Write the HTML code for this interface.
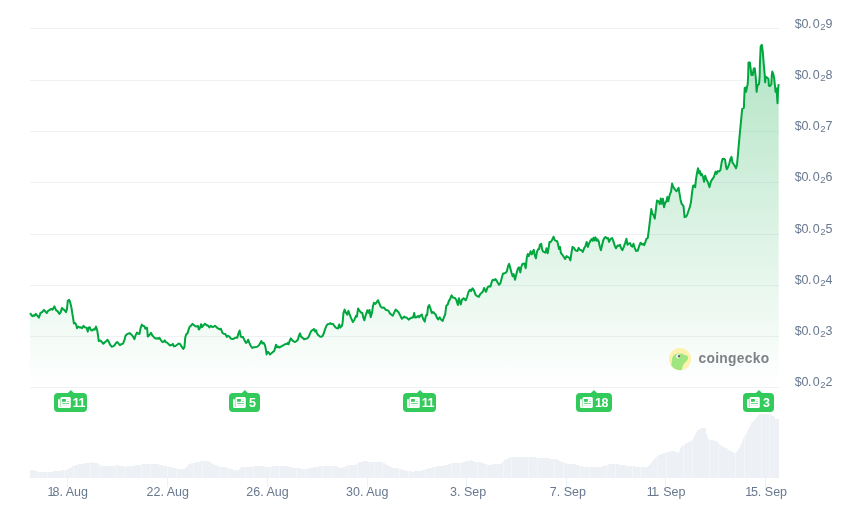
<!DOCTYPE html>
<html><head><meta charset="utf-8"><title>Price chart</title>
<style>
html,body{margin:0;padding:0;background:#fff;}
body{width:846px;height:516px;overflow:hidden;font-family:"Liberation Sans",sans-serif;}
svg{display:block;}
svg text{font-family:"Liberation Sans",sans-serif;}
</style></head><body>
<svg width="846" height="516" viewBox="0 0 846 516">
<defs>
<linearGradient id="ag" gradientUnits="userSpaceOnUse" x1="0" y1="44.8" x2="0" y2="387.5">
<stop offset="0" stop-color="#00a63e" stop-opacity="0.3"/>
<stop offset="1" stop-color="#00a63e" stop-opacity="0"/>
</linearGradient>
</defs>
<rect width="846" height="516" fill="#fff"/>
<g shape-rendering="crispEdges"><rect x="30" y="28" width="749" height="1" fill="#eff2f5"/><rect x="30" y="80" width="749" height="1" fill="#eff2f5"/><rect x="30" y="131" width="749" height="1" fill="#eff2f5"/><rect x="30" y="182" width="749" height="1" fill="#eff2f5"/><rect x="30" y="234" width="749" height="1" fill="#eff2f5"/><rect x="30" y="285" width="749" height="1" fill="#eff2f5"/><rect x="30" y="336" width="749" height="1" fill="#eff2f5"/><rect x="30" y="387" width="749" height="1" fill="#eff2f5"/><rect x="67" y="478" width="1" height="9" fill="#eff2f5"/><rect x="167" y="478" width="1" height="9" fill="#eff2f5"/><rect x="267" y="478" width="1" height="9" fill="#eff2f5"/><rect x="367" y="478" width="1" height="9" fill="#eff2f5"/><rect x="466" y="478" width="1" height="9" fill="#eff2f5"/><rect x="566" y="478" width="1" height="9" fill="#eff2f5"/><rect x="665" y="478" width="1" height="9" fill="#eff2f5"/><rect x="765" y="478" width="1" height="9" fill="#eff2f5"/></g>
<rect x="30" y="477" width="749" height="1" fill="#eff2f5"/>
<clipPath id="vc"><path d="M30 477.5 L30.0 469.6 L33.2 469.6 L38.9 471.9 L48.4 472.2 L57.8 470.9 L67.3 469.6 L73.0 466.2 L76.7 464.7 L84.3 463.4 L91.9 462.4 L97.5 463.4 L101.3 465.8 L110.8 466.2 L116.5 465.2 L125.9 466.6 L133.5 465.8 L142.9 464.3 L150.5 463.4 L158.1 464.3 L167.5 466.6 L180.0 469.0 L184.2 469.3 L188.9 464.0 L194.6 462.5 L201.2 461.2 L208.8 461.2 L212.6 463.7 L219.2 466.5 L226.7 467.4 L232.4 469.3 L238.1 470.7 L241.9 466.9 L249.4 466.9 L260.8 465.9 L268.4 466.9 L277.8 465.9 L285.4 465.9 L292.9 467.8 L298.6 468.4 L306.2 468.8 L315.6 466.9 L321.3 465.9 L327.6 465.9 L336.1 465.9 L340.8 468.4 L346.5 465.6 L355.9 464.6 L360.7 461.8 L365.4 460.8 L369.2 461.8 L382.4 462.1 L386.2 464.6 L391.9 467.4 L399.4 468.8 L405.1 470.3 L412.7 471.6 L420.2 471.2 L425.9 469.3 L433.5 466.9 L442.9 465.9 L452.4 463.1 L459.9 463.1 L465.6 461.2 L471.3 460.3 L475.7 462.1 L481.4 462.5 L488.9 465.0 L494.6 464.0 L500.3 463.7 L505.9 459.3 L511.6 456.5 L526.7 456.5 L534.3 457.4 L549.4 458.4 L557.0 459.3 L562.7 462.1 L568.4 464.0 L574.0 464.0 L579.7 465.9 L587.3 467.4 L602.4 466.5 L610.0 463.7 L617.5 463.7 L620.0 464.9 L629.5 465.8 L638.9 467.1 L648.4 466.6 L652.1 461.5 L657.8 455.8 L663.5 453.3 L673.0 450.7 L678.6 452.6 L681.5 446.3 L686.2 443.5 L691.9 440.7 L697.5 430.3 L701.3 428.4 L705.5 428.4 L707.0 436.9 L709.8 440.1 L716.5 440.7 L720.2 445.0 L725.9 448.2 L731.6 451.1 L735.4 453.0 L739.1 448.8 L742.9 439.7 L745.8 434.0 L750.5 424.6 L756.2 418.0 L760.0 413.6 L769.4 413.6 L771.3 415.1 L774.1 416.1 L775.1 418.9 L778.7 419.5 L778.7 477.5 Z"/></clipPath>
<path d="M30 477.5 L30.0 469.6 L33.2 469.6 L38.9 471.9 L48.4 472.2 L57.8 470.9 L67.3 469.6 L73.0 466.2 L76.7 464.7 L84.3 463.4 L91.9 462.4 L97.5 463.4 L101.3 465.8 L110.8 466.2 L116.5 465.2 L125.9 466.6 L133.5 465.8 L142.9 464.3 L150.5 463.4 L158.1 464.3 L167.5 466.6 L180.0 469.0 L184.2 469.3 L188.9 464.0 L194.6 462.5 L201.2 461.2 L208.8 461.2 L212.6 463.7 L219.2 466.5 L226.7 467.4 L232.4 469.3 L238.1 470.7 L241.9 466.9 L249.4 466.9 L260.8 465.9 L268.4 466.9 L277.8 465.9 L285.4 465.9 L292.9 467.8 L298.6 468.4 L306.2 468.8 L315.6 466.9 L321.3 465.9 L327.6 465.9 L336.1 465.9 L340.8 468.4 L346.5 465.6 L355.9 464.6 L360.7 461.8 L365.4 460.8 L369.2 461.8 L382.4 462.1 L386.2 464.6 L391.9 467.4 L399.4 468.8 L405.1 470.3 L412.7 471.6 L420.2 471.2 L425.9 469.3 L433.5 466.9 L442.9 465.9 L452.4 463.1 L459.9 463.1 L465.6 461.2 L471.3 460.3 L475.7 462.1 L481.4 462.5 L488.9 465.0 L494.6 464.0 L500.3 463.7 L505.9 459.3 L511.6 456.5 L526.7 456.5 L534.3 457.4 L549.4 458.4 L557.0 459.3 L562.7 462.1 L568.4 464.0 L574.0 464.0 L579.7 465.9 L587.3 467.4 L602.4 466.5 L610.0 463.7 L617.5 463.7 L620.0 464.9 L629.5 465.8 L638.9 467.1 L648.4 466.6 L652.1 461.5 L657.8 455.8 L663.5 453.3 L673.0 450.7 L678.6 452.6 L681.5 446.3 L686.2 443.5 L691.9 440.7 L697.5 430.3 L701.3 428.4 L705.5 428.4 L707.0 436.9 L709.8 440.1 L716.5 440.7 L720.2 445.0 L725.9 448.2 L731.6 451.1 L735.4 453.0 L739.1 448.8 L742.9 439.7 L745.8 434.0 L750.5 424.6 L756.2 418.0 L760.0 413.6 L769.4 413.6 L771.3 415.1 L774.1 416.1 L775.1 418.9 L778.7 419.5 L778.7 477.5 Z" fill="#edf1f5" shape-rendering="crispEdges"/>
<g clip-path="url(#vc)" shape-rendering="crispEdges" fill="#f3f5f8"><rect x="38" y="405" width="1" height="73"/><rect x="47" y="405" width="1" height="73"/><rect x="64" y="405" width="1" height="73"/><rect x="73" y="405" width="1" height="73"/><rect x="90" y="405" width="1" height="73"/><rect x="99" y="405" width="1" height="73"/><rect x="116" y="405" width="1" height="73"/><rect x="124" y="405" width="1" height="73"/><rect x="141" y="405" width="1" height="73"/><rect x="150" y="405" width="1" height="73"/><rect x="167" y="405" width="1" height="73"/><rect x="176" y="405" width="1" height="73"/><rect x="193" y="405" width="1" height="73"/><rect x="202" y="405" width="1" height="73"/><rect x="219" y="405" width="1" height="73"/><rect x="228" y="405" width="1" height="73"/><rect x="245" y="405" width="1" height="73"/><rect x="253" y="405" width="1" height="73"/><rect x="270" y="405" width="1" height="73"/><rect x="279" y="405" width="1" height="73"/><rect x="296" y="405" width="1" height="73"/><rect x="305" y="405" width="1" height="73"/><rect x="322" y="405" width="1" height="73"/><rect x="331" y="405" width="1" height="73"/><rect x="348" y="405" width="1" height="73"/><rect x="357" y="405" width="1" height="73"/><rect x="374" y="405" width="1" height="73"/><rect x="382" y="405" width="1" height="73"/><rect x="399" y="405" width="1" height="73"/><rect x="408" y="405" width="1" height="73"/><rect x="425" y="405" width="1" height="73"/><rect x="434" y="405" width="1" height="73"/><rect x="451" y="405" width="1" height="73"/><rect x="460" y="405" width="1" height="73"/><rect x="477" y="405" width="1" height="73"/><rect x="486" y="405" width="1" height="73"/><rect x="503" y="405" width="1" height="73"/><rect x="511" y="405" width="1" height="73"/><rect x="528" y="405" width="1" height="73"/><rect x="537" y="405" width="1" height="73"/><rect x="554" y="405" width="1" height="73"/><rect x="563" y="405" width="1" height="73"/><rect x="580" y="405" width="1" height="73"/><rect x="589" y="405" width="1" height="73"/><rect x="606" y="405" width="1" height="73"/><rect x="615" y="405" width="1" height="73"/><rect x="632" y="405" width="1" height="73"/><rect x="640" y="405" width="1" height="73"/><rect x="657" y="405" width="1" height="73"/><rect x="666" y="405" width="1" height="73"/><rect x="683" y="405" width="1" height="73"/><rect x="692" y="405" width="1" height="73"/><rect x="709" y="405" width="1" height="73"/><rect x="718" y="405" width="1" height="73"/><rect x="735" y="405" width="1" height="73"/><rect x="744" y="405" width="1" height="73"/><rect x="761" y="405" width="1" height="73"/><rect x="769" y="405" width="1" height="73"/></g>
<path d="M30.0 313.1 L32.3 316.2 L33.6 315.2 L34.6 315.8 L35.8 313.9 L37.3 315.6 L38.9 317.7 L40.5 312.9 L42.1 312.1 L44.0 309.9 L45.5 311.7 L46.8 313.1 L48.1 310.8 L49.7 309.9 L51.2 308.9 L52.5 309.8 L54.4 306.4 L56.0 310.2 L57.5 311.2 L59.4 313.9 L60.7 312.1 L61.9 308.0 L63.4 309.5 L64.4 309.9 L66.0 312.1 L67.0 308.9 L67.8 300.7 L69.1 299.8 L70.1 302.0 L71.4 307.6 L72.6 315.2 L73.9 323.4 L75.2 323.0 L76.2 324.7 L77.0 328.2 L78.3 326.6 L79.6 327.4 L80.8 327.2 L82.1 328.2 L83.6 325.9 L85.0 327.4 L86.5 327.8 L87.8 331.6 L88.6 327.6 L89.7 327.2 L90.9 330.1 L92.2 330.6 L93.4 329.3 L94.7 329.7 L96.0 326.6 L97.2 330.3 L98.1 336.0 L98.8 341.1 L100.4 340.4 L101.6 341.7 L103.3 343.8 L104.8 342.3 L106.0 341.4 L107.5 339.8 L108.8 341.9 L110.2 344.8 L111.7 346.7 L113.6 346.1 L114.9 344.8 L116.1 342.7 L117.4 342.1 L118.6 343.6 L119.9 345.1 L121.4 344.2 L123.0 343.6 L124.3 340.4 L125.6 335.4 L126.8 334.4 L128.3 333.7 L129.6 333.1 L130.9 334.1 L132.6 335.9 L134.4 339.1 L135.8 334.7 L137.1 332.5 L138.3 333.8 L139.5 334.0 L140.5 328.4 L141.8 324.6 L143.0 325.8 L144.3 326.2 L145.3 328.7 L146.2 327.7 L147.1 328.0 L147.8 336.6 L149.3 335.3 L151.0 332.8 L152.2 335.3 L153.7 336.9 L155.4 338.4 L156.9 338.2 L158.4 338.8 L159.4 337.8 L161.0 340.3 L162.6 342.2 L163.8 341.6 L164.7 340.3 L165.9 342.2 L167.2 342.6 L168.8 344.4 L170.1 345.4 L171.6 345.1 L172.9 343.9 L173.9 346.4 L175.4 346.0 L177.1 344.7 L178.7 343.5 L180.2 344.1 L181.5 346.4 L183.3 348.9 L184.4 347.3 L185.2 337.8 L186.2 334.3 L187.5 333.4 L188.6 329.6 L189.7 326.7 L190.9 325.8 L192.4 323.9 L194.1 325.2 L195.3 326.2 L196.6 326.5 L197.8 325.8 L198.8 329.6 L200.1 327.7 L201.0 324.2 L202.0 327.1 L203.5 325.2 L205.0 323.7 L206.7 325.2 L208.2 325.8 L209.4 327.5 L210.7 325.8 L212.3 326.9 L213.6 326.7 L214.9 325.8 L216.4 327.1 L218.0 328.4 L219.3 329.2 L220.8 328.7 L222.4 332.8 L223.7 333.8 L225.3 334.0 L226.8 336.9 L228.1 335.7 L229.6 336.8 L231.2 338.8 L232.9 339.1 L234.6 338.1 L235.8 337.6 L237.3 337.8 L238.3 333.8 L239.6 330.5 L240.8 336.6 L241.8 337.2 L243.0 336.9 L244.5 340.3 L245.9 342.9 L247.1 341.9 L248.1 339.7 L249.3 342.9 L250.8 346.0 L252.2 347.9 L254.0 347.3 L255.9 347.0 L257.5 346.6 L259.0 345.1 L260.3 343.1 L261.3 341.0 L262.6 343.5 L263.6 342.9 L264.8 344.7 L265.7 348.5 L266.6 354.4 L267.9 351.9 L268.9 352.7 L269.9 354.4 L271.4 353.2 L272.9 351.9 L274.1 351.1 L275.2 347.9 L276.0 344.7 L277.1 347.3 L278.1 346.6 L279.2 347.6 L280.8 346.6 L282.3 346.0 L284.0 344.7 L285.5 344.1 L286.8 344.1 L287.8 342.9 L288.6 344.1 L289.9 340.3 L290.9 338.4 L292.2 340.3 L293.7 341.3 L295.1 342.0 L296.6 341.0 L297.8 339.7 L298.9 335.9 L300.0 333.4 L301.0 336.6 L302.5 337.8 L304.1 339.3 L305.7 338.8 L307.3 338.4 L308.8 336.6 L310.1 333.4 L311.3 330.9 L312.6 330.2 L313.9 329.0 L315.1 331.5 L316.1 330.2 L317.0 333.4 L318.4 335.3 L319.9 336.6 L321.2 336.8 L322.7 335.9 L323.9 333.0 L324.9 329.6 L326.4 325.8 L327.7 324.2 L329.1 323.9 L330.4 323.1 L331.3 324.1 L332.9 323.9 L334.4 326.0 L336.1 327.9 L338.0 328.5 L339.2 324.4 L340.2 327.6 L341.8 326.0 L342.6 322.9 L343.4 313.4 L344.6 309.6 L345.9 312.8 L347.2 314.7 L348.4 310.9 L349.7 314.7 L351.0 317.8 L352.9 322.0 L354.4 319.7 L356.0 315.9 L356.9 316.6 L358.1 308.4 L359.6 310.9 L361.0 312.5 L362.3 313.0 L363.4 317.8 L364.4 320.3 L365.7 315.3 L367.3 310.2 L368.5 312.8 L369.5 310.0 L370.7 317.2 L372.0 312.8 L372.9 306.5 L373.9 302.7 L375.4 303.9 L376.7 302.1 L377.9 300.2 L379.3 303.3 L380.6 306.5 L382.1 307.7 L384.0 307.5 L385.5 309.6 L387.1 310.2 L388.6 310.9 L390.0 313.4 L391.5 314.7 L392.8 315.7 L394.1 312.8 L395.6 309.6 L397.2 310.9 L398.7 312.5 L400.4 315.9 L401.9 318.8 L403.1 317.6 L404.1 316.6 L405.4 317.6 L406.7 317.6 L408.6 319.7 L410.2 318.4 L411.7 317.8 L413.2 317.2 L414.2 313.0 L415.1 317.6 L416.5 317.2 L418.0 315.9 L419.3 317.2 L420.0 316.0 L421.7 314.5 L423.1 318.8 L424.7 321.6 L426.0 315.2 L427.1 315.2 L428.1 306.7 L429.2 305.0 L430.6 308.9 L431.8 313.1 L433.1 312.1 L434.2 313.1 L435.6 314.5 L437.0 317.8 L438.2 319.5 L439.6 317.4 L441.0 319.5 L442.7 320.9 L444.1 316.7 L445.2 314.5 L446.2 306.0 L447.7 304.6 L448.8 301.1 L450.2 298.9 L451.6 295.4 L452.9 297.5 L454.8 297.9 L456.2 299.6 L457.9 305.0 L459.0 298.2 L460.7 304.6 L462.1 299.6 L463.6 298.2 L465.7 300.4 L467.1 296.8 L468.6 291.8 L469.9 289.7 L471.1 291.1 L472.5 288.3 L473.9 290.4 L475.6 294.7 L477.0 296.1 L478.9 296.8 L480.3 294.0 L482.0 292.6 L483.1 291.1 L484.1 288.0 L486.0 291.8 L487.7 287.2 L489.2 286.2 L490.5 286.6 L491.9 281.2 L492.8 279.8 L494.0 280.2 L495.5 279.1 L497.3 281.9 L499.0 284.8 L500.4 283.3 L501.6 278.4 L503.0 273.4 L504.4 273.4 L505.8 272.7 L506.9 271.3 L508.2 265.6 L509.1 263.9 L510.4 268.4 L511.5 272.7 L512.6 276.2 L513.6 274.1 L515.0 279.8 L516.5 273.4 L517.9 268.4 L518.9 267.3 L520.4 272.4 L521.1 267.5 L522.4 263.9 L524.3 263.5 L525.7 268.2 L526.8 257.6 L527.8 254.0 L528.8 256.1 L529.9 253.3 L530.6 251.2 L531.8 254.4 L532.8 251.9 L533.8 249.8 L534.6 254.7 L535.9 258.3 L537.0 251.6 L538.2 249.3 L539.1 249.0 L539.9 244.8 L541.3 243.8 L542.0 248.8 L543.1 251.6 L544.5 252.2 L545.5 252.6 L546.5 248.3 L547.7 253.3 L548.8 246.9 L549.5 241.9 L550.5 242.2 L551.9 240.2 L553.6 236.7 L554.8 240.2 L556.2 241.0 L557.2 241.2 L558.3 245.5 L559.0 249.0 L560.0 246.9 L560.9 253.0 L562.1 254.4 L563.7 256.8 L565.1 259.0 L566.5 256.1 L568.2 257.3 L569.2 257.6 L570.4 260.4 L571.4 253.3 L572.5 246.9 L573.9 247.9 L575.6 250.5 L577.5 250.9 L578.6 247.9 L579.9 249.8 L581.3 250.2 L582.8 251.9 L584.1 248.3 L585.5 245.9 L586.7 241.9 L587.8 246.9 L589.1 243.4 L590.5 240.5 L591.6 239.1 L592.6 240.8 L593.5 237.7 L594.5 240.5 L595.5 237.4 L596.6 240.8 L597.6 239.4 L598.7 241.2 L599.7 246.2 L600.9 250.2 L602.0 245.5 L603.3 240.2 L604.4 238.0 L605.5 237.0 L606.8 238.4 L607.9 238.0 L609.1 241.9 L610.4 239.1 L612.2 238.0 L613.6 241.9 L614.8 245.9 L616.0 248.3 L617.6 245.5 L618.9 245.9 L620.0 244.8 L621.1 248.3 L622.4 250.2 L623.8 246.9 L625.2 242.7 L626.4 238.8 L627.5 244.8 L628.9 243.4 L630.0 243.1 L631.4 246.0 L632.4 246.7 L633.5 243.8 L634.7 247.8 L636.0 250.9 L637.8 250.6 L639.2 246.0 L640.6 242.7 L642.1 244.5 L643.2 243.8 L644.2 245.2 L645.3 242.4 L646.3 238.9 L647.7 238.2 L648.7 231.1 L649.9 221.1 L651.3 209.1 L652.4 214.0 L653.4 214.8 L654.8 218.6 L656.0 208.4 L657.0 200.6 L658.1 201.0 L659.1 202.4 L659.8 204.1 L660.8 198.4 L661.9 203.8 L662.9 198.7 L664.0 207.2 L665.2 202.7 L666.5 201.3 L667.3 197.0 L668.3 201.3 L669.7 194.9 L671.1 191.3 L672.1 183.6 L673.3 187.1 L674.7 189.2 L676.5 191.3 L677.5 189.7 L678.6 187.8 L679.6 194.2 L680.6 199.9 L681.5 203.4 L682.5 204.8 L683.5 206.2 L684.6 217.2 L686.0 216.6 L687.2 214.8 L688.6 210.5 L689.9 206.9 L691.0 202.0 L692.0 192.8 L693.1 185.7 L694.1 185.4 L695.2 187.1 L695.9 180.0 L697.0 172.9 L698.0 168.3 L699.1 173.2 L699.9 171.1 L700.9 175.3 L701.7 173.9 L703.0 176.8 L704.1 181.7 L705.2 175.8 L706.2 178.9 L707.7 181.7 L709.5 187.1 L710.9 181.4 L712.6 178.9 L714.0 176.8 L715.5 171.8 L716.6 173.9 L717.6 171.1 L719.0 171.5 L720.4 170.1 L721.6 162.6 L722.5 159.0 L724.0 158.8 L725.1 159.8 L726.1 166.8 L726.8 169.3 L728.2 166.8 L729.4 163.3 L730.4 159.0 L731.5 156.9 L732.5 162.6 L733.6 164.0 L734.9 166.1 L736.0 168.3 L737.0 164.7 L737.9 154.8 L738.9 143.4 L740.0 131.6 L742.2 108.8 L743.9 107.8 L744.2 98.5 L744.7 88.0 L745.6 87.6 L746.1 91.8 L747.1 86.6 L747.7 84.2 L748.2 74.8 L748.5 62.5 L749.9 62.5 L751.4 74.9 L752.8 74.9 L753.7 68.7 L754.7 68.2 L755.6 75.9 L755.9 79.5 L756.6 91.8 L757.2 87.1 L758.0 84.7 L759.0 84.2 L759.7 75.7 L759.9 63.5 L760.7 46.4 L761.8 44.8 L762.8 52.1 L763.7 63.5 L764.7 74.9 L765.1 82.3 L765.6 76.7 L767.0 77.6 L768.5 79.0 L768.9 85.7 L769.9 86.2 L771.3 84.2 L771.8 74.8 L772.3 71.6 L773.2 73.8 L774.2 78.5 L775.1 87.1 L775.6 91.8 L776.5 88.5 L777.5 103.2 L778.1 89.0 L778.7 84.2 L778.7 387.5 L30 387.5 Z" fill="url(#ag)"/>
<path d="M30.0 313.1 L32.3 316.2 L33.6 315.2 L34.6 315.8 L35.8 313.9 L37.3 315.6 L38.9 317.7 L40.5 312.9 L42.1 312.1 L44.0 309.9 L45.5 311.7 L46.8 313.1 L48.1 310.8 L49.7 309.9 L51.2 308.9 L52.5 309.8 L54.4 306.4 L56.0 310.2 L57.5 311.2 L59.4 313.9 L60.7 312.1 L61.9 308.0 L63.4 309.5 L64.4 309.9 L66.0 312.1 L67.0 308.9 L67.8 300.7 L69.1 299.8 L70.1 302.0 L71.4 307.6 L72.6 315.2 L73.9 323.4 L75.2 323.0 L76.2 324.7 L77.0 328.2 L78.3 326.6 L79.6 327.4 L80.8 327.2 L82.1 328.2 L83.6 325.9 L85.0 327.4 L86.5 327.8 L87.8 331.6 L88.6 327.6 L89.7 327.2 L90.9 330.1 L92.2 330.6 L93.4 329.3 L94.7 329.7 L96.0 326.6 L97.2 330.3 L98.1 336.0 L98.8 341.1 L100.4 340.4 L101.6 341.7 L103.3 343.8 L104.8 342.3 L106.0 341.4 L107.5 339.8 L108.8 341.9 L110.2 344.8 L111.7 346.7 L113.6 346.1 L114.9 344.8 L116.1 342.7 L117.4 342.1 L118.6 343.6 L119.9 345.1 L121.4 344.2 L123.0 343.6 L124.3 340.4 L125.6 335.4 L126.8 334.4 L128.3 333.7 L129.6 333.1 L130.9 334.1 L132.6 335.9 L134.4 339.1 L135.8 334.7 L137.1 332.5 L138.3 333.8 L139.5 334.0 L140.5 328.4 L141.8 324.6 L143.0 325.8 L144.3 326.2 L145.3 328.7 L146.2 327.7 L147.1 328.0 L147.8 336.6 L149.3 335.3 L151.0 332.8 L152.2 335.3 L153.7 336.9 L155.4 338.4 L156.9 338.2 L158.4 338.8 L159.4 337.8 L161.0 340.3 L162.6 342.2 L163.8 341.6 L164.7 340.3 L165.9 342.2 L167.2 342.6 L168.8 344.4 L170.1 345.4 L171.6 345.1 L172.9 343.9 L173.9 346.4 L175.4 346.0 L177.1 344.7 L178.7 343.5 L180.2 344.1 L181.5 346.4 L183.3 348.9 L184.4 347.3 L185.2 337.8 L186.2 334.3 L187.5 333.4 L188.6 329.6 L189.7 326.7 L190.9 325.8 L192.4 323.9 L194.1 325.2 L195.3 326.2 L196.6 326.5 L197.8 325.8 L198.8 329.6 L200.1 327.7 L201.0 324.2 L202.0 327.1 L203.5 325.2 L205.0 323.7 L206.7 325.2 L208.2 325.8 L209.4 327.5 L210.7 325.8 L212.3 326.9 L213.6 326.7 L214.9 325.8 L216.4 327.1 L218.0 328.4 L219.3 329.2 L220.8 328.7 L222.4 332.8 L223.7 333.8 L225.3 334.0 L226.8 336.9 L228.1 335.7 L229.6 336.8 L231.2 338.8 L232.9 339.1 L234.6 338.1 L235.8 337.6 L237.3 337.8 L238.3 333.8 L239.6 330.5 L240.8 336.6 L241.8 337.2 L243.0 336.9 L244.5 340.3 L245.9 342.9 L247.1 341.9 L248.1 339.7 L249.3 342.9 L250.8 346.0 L252.2 347.9 L254.0 347.3 L255.9 347.0 L257.5 346.6 L259.0 345.1 L260.3 343.1 L261.3 341.0 L262.6 343.5 L263.6 342.9 L264.8 344.7 L265.7 348.5 L266.6 354.4 L267.9 351.9 L268.9 352.7 L269.9 354.4 L271.4 353.2 L272.9 351.9 L274.1 351.1 L275.2 347.9 L276.0 344.7 L277.1 347.3 L278.1 346.6 L279.2 347.6 L280.8 346.6 L282.3 346.0 L284.0 344.7 L285.5 344.1 L286.8 344.1 L287.8 342.9 L288.6 344.1 L289.9 340.3 L290.9 338.4 L292.2 340.3 L293.7 341.3 L295.1 342.0 L296.6 341.0 L297.8 339.7 L298.9 335.9 L300.0 333.4 L301.0 336.6 L302.5 337.8 L304.1 339.3 L305.7 338.8 L307.3 338.4 L308.8 336.6 L310.1 333.4 L311.3 330.9 L312.6 330.2 L313.9 329.0 L315.1 331.5 L316.1 330.2 L317.0 333.4 L318.4 335.3 L319.9 336.6 L321.2 336.8 L322.7 335.9 L323.9 333.0 L324.9 329.6 L326.4 325.8 L327.7 324.2 L329.1 323.9 L330.4 323.1 L331.3 324.1 L332.9 323.9 L334.4 326.0 L336.1 327.9 L338.0 328.5 L339.2 324.4 L340.2 327.6 L341.8 326.0 L342.6 322.9 L343.4 313.4 L344.6 309.6 L345.9 312.8 L347.2 314.7 L348.4 310.9 L349.7 314.7 L351.0 317.8 L352.9 322.0 L354.4 319.7 L356.0 315.9 L356.9 316.6 L358.1 308.4 L359.6 310.9 L361.0 312.5 L362.3 313.0 L363.4 317.8 L364.4 320.3 L365.7 315.3 L367.3 310.2 L368.5 312.8 L369.5 310.0 L370.7 317.2 L372.0 312.8 L372.9 306.5 L373.9 302.7 L375.4 303.9 L376.7 302.1 L377.9 300.2 L379.3 303.3 L380.6 306.5 L382.1 307.7 L384.0 307.5 L385.5 309.6 L387.1 310.2 L388.6 310.9 L390.0 313.4 L391.5 314.7 L392.8 315.7 L394.1 312.8 L395.6 309.6 L397.2 310.9 L398.7 312.5 L400.4 315.9 L401.9 318.8 L403.1 317.6 L404.1 316.6 L405.4 317.6 L406.7 317.6 L408.6 319.7 L410.2 318.4 L411.7 317.8 L413.2 317.2 L414.2 313.0 L415.1 317.6 L416.5 317.2 L418.0 315.9 L419.3 317.2 L420.0 316.0 L421.7 314.5 L423.1 318.8 L424.7 321.6 L426.0 315.2 L427.1 315.2 L428.1 306.7 L429.2 305.0 L430.6 308.9 L431.8 313.1 L433.1 312.1 L434.2 313.1 L435.6 314.5 L437.0 317.8 L438.2 319.5 L439.6 317.4 L441.0 319.5 L442.7 320.9 L444.1 316.7 L445.2 314.5 L446.2 306.0 L447.7 304.6 L448.8 301.1 L450.2 298.9 L451.6 295.4 L452.9 297.5 L454.8 297.9 L456.2 299.6 L457.9 305.0 L459.0 298.2 L460.7 304.6 L462.1 299.6 L463.6 298.2 L465.7 300.4 L467.1 296.8 L468.6 291.8 L469.9 289.7 L471.1 291.1 L472.5 288.3 L473.9 290.4 L475.6 294.7 L477.0 296.1 L478.9 296.8 L480.3 294.0 L482.0 292.6 L483.1 291.1 L484.1 288.0 L486.0 291.8 L487.7 287.2 L489.2 286.2 L490.5 286.6 L491.9 281.2 L492.8 279.8 L494.0 280.2 L495.5 279.1 L497.3 281.9 L499.0 284.8 L500.4 283.3 L501.6 278.4 L503.0 273.4 L504.4 273.4 L505.8 272.7 L506.9 271.3 L508.2 265.6 L509.1 263.9 L510.4 268.4 L511.5 272.7 L512.6 276.2 L513.6 274.1 L515.0 279.8 L516.5 273.4 L517.9 268.4 L518.9 267.3 L520.4 272.4 L521.1 267.5 L522.4 263.9 L524.3 263.5 L525.7 268.2 L526.8 257.6 L527.8 254.0 L528.8 256.1 L529.9 253.3 L530.6 251.2 L531.8 254.4 L532.8 251.9 L533.8 249.8 L534.6 254.7 L535.9 258.3 L537.0 251.6 L538.2 249.3 L539.1 249.0 L539.9 244.8 L541.3 243.8 L542.0 248.8 L543.1 251.6 L544.5 252.2 L545.5 252.6 L546.5 248.3 L547.7 253.3 L548.8 246.9 L549.5 241.9 L550.5 242.2 L551.9 240.2 L553.6 236.7 L554.8 240.2 L556.2 241.0 L557.2 241.2 L558.3 245.5 L559.0 249.0 L560.0 246.9 L560.9 253.0 L562.1 254.4 L563.7 256.8 L565.1 259.0 L566.5 256.1 L568.2 257.3 L569.2 257.6 L570.4 260.4 L571.4 253.3 L572.5 246.9 L573.9 247.9 L575.6 250.5 L577.5 250.9 L578.6 247.9 L579.9 249.8 L581.3 250.2 L582.8 251.9 L584.1 248.3 L585.5 245.9 L586.7 241.9 L587.8 246.9 L589.1 243.4 L590.5 240.5 L591.6 239.1 L592.6 240.8 L593.5 237.7 L594.5 240.5 L595.5 237.4 L596.6 240.8 L597.6 239.4 L598.7 241.2 L599.7 246.2 L600.9 250.2 L602.0 245.5 L603.3 240.2 L604.4 238.0 L605.5 237.0 L606.8 238.4 L607.9 238.0 L609.1 241.9 L610.4 239.1 L612.2 238.0 L613.6 241.9 L614.8 245.9 L616.0 248.3 L617.6 245.5 L618.9 245.9 L620.0 244.8 L621.1 248.3 L622.4 250.2 L623.8 246.9 L625.2 242.7 L626.4 238.8 L627.5 244.8 L628.9 243.4 L630.0 243.1 L631.4 246.0 L632.4 246.7 L633.5 243.8 L634.7 247.8 L636.0 250.9 L637.8 250.6 L639.2 246.0 L640.6 242.7 L642.1 244.5 L643.2 243.8 L644.2 245.2 L645.3 242.4 L646.3 238.9 L647.7 238.2 L648.7 231.1 L649.9 221.1 L651.3 209.1 L652.4 214.0 L653.4 214.8 L654.8 218.6 L656.0 208.4 L657.0 200.6 L658.1 201.0 L659.1 202.4 L659.8 204.1 L660.8 198.4 L661.9 203.8 L662.9 198.7 L664.0 207.2 L665.2 202.7 L666.5 201.3 L667.3 197.0 L668.3 201.3 L669.7 194.9 L671.1 191.3 L672.1 183.6 L673.3 187.1 L674.7 189.2 L676.5 191.3 L677.5 189.7 L678.6 187.8 L679.6 194.2 L680.6 199.9 L681.5 203.4 L682.5 204.8 L683.5 206.2 L684.6 217.2 L686.0 216.6 L687.2 214.8 L688.6 210.5 L689.9 206.9 L691.0 202.0 L692.0 192.8 L693.1 185.7 L694.1 185.4 L695.2 187.1 L695.9 180.0 L697.0 172.9 L698.0 168.3 L699.1 173.2 L699.9 171.1 L700.9 175.3 L701.7 173.9 L703.0 176.8 L704.1 181.7 L705.2 175.8 L706.2 178.9 L707.7 181.7 L709.5 187.1 L710.9 181.4 L712.6 178.9 L714.0 176.8 L715.5 171.8 L716.6 173.9 L717.6 171.1 L719.0 171.5 L720.4 170.1 L721.6 162.6 L722.5 159.0 L724.0 158.8 L725.1 159.8 L726.1 166.8 L726.8 169.3 L728.2 166.8 L729.4 163.3 L730.4 159.0 L731.5 156.9 L732.5 162.6 L733.6 164.0 L734.9 166.1 L736.0 168.3 L737.0 164.7 L737.9 154.8 L738.9 143.4 L740.0 131.6 L742.2 108.8 L743.9 107.8 L744.2 98.5 L744.7 88.0 L745.6 87.6 L746.1 91.8 L747.1 86.6 L747.7 84.2 L748.2 74.8 L748.5 62.5 L749.9 62.5 L751.4 74.9 L752.8 74.9 L753.7 68.7 L754.7 68.2 L755.6 75.9 L755.9 79.5 L756.6 91.8 L757.2 87.1 L758.0 84.7 L759.0 84.2 L759.7 75.7 L759.9 63.5 L760.7 46.4 L761.8 44.8 L762.8 52.1 L763.7 63.5 L764.7 74.9 L765.1 82.3 L765.6 76.7 L767.0 77.6 L768.5 79.0 L768.9 85.7 L769.9 86.2 L771.3 84.2 L771.8 74.8 L772.3 71.6 L773.2 73.8 L774.2 78.5 L775.1 87.1 L775.6 91.8 L776.5 88.5 L777.5 103.2 L778.1 89.0 L778.7 84.2" fill="none" stroke="#00a63e" stroke-width="2" stroke-linejoin="round" stroke-linecap="butt"/>
<g>
<circle cx="680" cy="359.1" r="11.1" fill="#fdf1ae"/>
<path d="M671.3 365.5 L672.1 358.5 Q672.6 355.2 675.6 353.9 Q679 353 682.4 353.7 L684.4 355.1 Q686 354.9 687.6 355.9 Q688.6 357.4 687.8 359.4 Q686.5 361 683.8 363.8 Q682.3 367 681.7 369.9 Q679.5 370.5 676.5 369.6 Q673 368.2 671.3 365.5 Z" fill="#a0e67e"/>
<circle cx="678.2" cy="356.3" r="2.1" fill="#fff"/>
<circle cx="679" cy="356.3" r="1.2" fill="#5b5f6b"/>
<text x="698.5" y="363.1" font-size="13.8" font-weight="700" fill="#7e8287" letter-spacing="0.3">coingecko</text>
</g>
<g><path d="M67.60000000000001 393.3 L70.9 390 L74.2 393.3 Z" fill="#32ca5b"/><rect x="54" y="393" width="33" height="19" rx="4" fill="#32ca5b"/><g transform="translate(58,397.1)"><path d="M0 2.85 a0.95 0.95 0 0 1 1.9 0 V9.9 H4 V10.9 H1.6 A1.6 1.6 0 0 1 0 9.3 Z" fill="#fff"/><rect x="2.4" y="0" width="10.4" height="10.9" rx="1.5" fill="#fff"/><g fill="#32ca5b"><rect x="4" y="1.95" width="3.9" height="2.7" rx="0.5"/><rect x="9" y="1.75" width="2.1" height="0.7" opacity="0.22"/><rect x="9" y="3.95" width="2.1" height="0.8" rx="0.3" opacity="0.7"/><rect x="4" y="5.95" width="7.1" height="0.8" rx="0.3" opacity="0.9"/><rect x="4" y="8.05" width="7.1" height="0.7" rx="0.3" opacity="0.3"/></g></g><text y="407" fill="#fff" font-weight="700" font-size="12.5"><tspan x="72.7">1</tspan><tspan x="78.4">1</tspan></text></g><g><path d="M241.6 393.3 L244.9 390 L248.20000000000002 393.3 Z" fill="#32ca5b"/><rect x="229" y="393" width="31" height="19" rx="4" fill="#32ca5b"/><g transform="translate(233,397.1)"><path d="M0 2.85 a0.95 0.95 0 0 1 1.9 0 V9.9 H4 V10.9 H1.6 A1.6 1.6 0 0 1 0 9.3 Z" fill="#fff"/><rect x="2.4" y="0" width="10.4" height="10.9" rx="1.5" fill="#fff"/><g fill="#32ca5b"><rect x="4" y="1.95" width="3.9" height="2.7" rx="0.5"/><rect x="9" y="1.75" width="2.1" height="0.7" opacity="0.22"/><rect x="9" y="3.95" width="2.1" height="0.8" rx="0.3" opacity="0.7"/><rect x="4" y="5.95" width="7.1" height="0.8" rx="0.3" opacity="0.9"/><rect x="4" y="8.05" width="7.1" height="0.7" rx="0.3" opacity="0.3"/></g></g><text y="407" fill="#fff" font-weight="700" font-size="12.5"><tspan x="249.0">5</tspan></text></g><g><path d="M416.7 393.3 L420 390 L423.3 393.3 Z" fill="#32ca5b"/><rect x="403" y="393" width="33" height="19" rx="4" fill="#32ca5b"/><g transform="translate(407,397.1)"><path d="M0 2.85 a0.95 0.95 0 0 1 1.9 0 V9.9 H4 V10.9 H1.6 A1.6 1.6 0 0 1 0 9.3 Z" fill="#fff"/><rect x="2.4" y="0" width="10.4" height="10.9" rx="1.5" fill="#fff"/><g fill="#32ca5b"><rect x="4" y="1.95" width="3.9" height="2.7" rx="0.5"/><rect x="9" y="1.75" width="2.1" height="0.7" opacity="0.22"/><rect x="9" y="3.95" width="2.1" height="0.8" rx="0.3" opacity="0.7"/><rect x="4" y="5.95" width="7.1" height="0.8" rx="0.3" opacity="0.9"/><rect x="4" y="8.05" width="7.1" height="0.7" rx="0.3" opacity="0.3"/></g></g><text y="407" fill="#fff" font-weight="700" font-size="12.5"><tspan x="421.7">1</tspan><tspan x="427.4">1</tspan></text></g><g><path d="M590.7 393.3 L594 390 L597.3 393.3 Z" fill="#32ca5b"/><rect x="576" y="393" width="36" height="19" rx="4" fill="#32ca5b"/><g transform="translate(580,397.1)"><path d="M0 2.85 a0.95 0.95 0 0 1 1.9 0 V9.9 H4 V10.9 H1.6 A1.6 1.6 0 0 1 0 9.3 Z" fill="#fff"/><rect x="2.4" y="0" width="10.4" height="10.9" rx="1.5" fill="#fff"/><g fill="#32ca5b"><rect x="4" y="1.95" width="3.9" height="2.7" rx="0.5"/><rect x="9" y="1.75" width="2.1" height="0.7" opacity="0.22"/><rect x="9" y="3.95" width="2.1" height="0.8" rx="0.3" opacity="0.7"/><rect x="4" y="5.95" width="7.1" height="0.8" rx="0.3" opacity="0.9"/><rect x="4" y="8.05" width="7.1" height="0.7" rx="0.3" opacity="0.3"/></g></g><text y="407" fill="#fff" font-weight="700" font-size="12.5"><tspan x="595.0">1</tspan><tspan x="601.5">8</tspan></text></g><g><path d="M755.7 393.3 L759 390 L762.3 393.3 Z" fill="#32ca5b"/><rect x="743" y="393" width="31" height="19" rx="4" fill="#32ca5b"/><g transform="translate(747,397.1)"><path d="M0 2.85 a0.95 0.95 0 0 1 1.9 0 V9.9 H4 V10.9 H1.6 A1.6 1.6 0 0 1 0 9.3 Z" fill="#fff"/><rect x="2.4" y="0" width="10.4" height="10.9" rx="1.5" fill="#fff"/><g fill="#32ca5b"><rect x="4" y="1.95" width="3.9" height="2.7" rx="0.5"/><rect x="9" y="1.75" width="2.1" height="0.7" opacity="0.22"/><rect x="9" y="3.95" width="2.1" height="0.8" rx="0.3" opacity="0.7"/><rect x="4" y="5.95" width="7.1" height="0.8" rx="0.3" opacity="0.9"/><rect x="4" y="8.05" width="7.1" height="0.7" rx="0.3" opacity="0.3"/></g></g><text y="407" fill="#fff" font-weight="700" font-size="12.5"><tspan x="762.9">3</tspan></text></g>
<g font-size="12.5" fill="#68788f"><text y="28"><tspan x="794.7 801.5 808 812.8">$0.0</tspan><tspan x="820.2" dy="2.3" font-size="9.6">2</tspan><tspan x="825.4" dy="-2.3">9</tspan></text><text y="79"><tspan x="794.7 801.5 808 812.8">$0.0</tspan><tspan x="820.2" dy="2.3" font-size="9.6">2</tspan><tspan x="825.4" dy="-2.3">8</tspan></text><text y="130"><tspan x="794.7 801.5 808 812.8">$0.0</tspan><tspan x="820.2" dy="2.3" font-size="9.6">2</tspan><tspan x="825.4" dy="-2.3">7</tspan></text><text y="181"><tspan x="794.7 801.5 808 812.8">$0.0</tspan><tspan x="820.2" dy="2.3" font-size="9.6">2</tspan><tspan x="825.4" dy="-2.3">6</tspan></text><text y="233"><tspan x="794.7 801.5 808 812.8">$0.0</tspan><tspan x="820.2" dy="2.3" font-size="9.6">2</tspan><tspan x="825.4" dy="-2.3">5</tspan></text><text y="284"><tspan x="794.7 801.5 808 812.8">$0.0</tspan><tspan x="820.2" dy="2.3" font-size="9.6">2</tspan><tspan x="825.4" dy="-2.3">4</tspan></text><text y="335"><tspan x="794.7 801.5 808 812.8">$0.0</tspan><tspan x="820.2" dy="2.3" font-size="9.6">2</tspan><tspan x="825.4" dy="-2.3">3</tspan></text><text y="386"><tspan x="794.7 801.5 808 812.8">$0.0</tspan><tspan x="820.2" dy="2.3" font-size="9.6">2</tspan><tspan x="825.4" dy="-2.3">2</tspan></text><text y="495.9"><tspan x="47.5">1</tspan><tspan x="52.46">8. Aug</tspan></text><text y="495.9"><tspan x="146.5">22. Aug</tspan></text><text y="495.9"><tspan x="246.3">26. Aug</tspan></text><text y="495.9"><tspan x="346.1">30. Aug</tspan></text><text y="495.9"><tspan x="450.1">3. Sep</tspan></text><text y="495.9"><tspan x="549.8">7. Sep</tspan></text><text y="495.9"><tspan x="646.8">1</tspan><tspan x="651.3">1</tspan><tspan x="656.2">. Sep</tspan></text><text y="495.9"><tspan x="745.3">1</tspan><tspan x="750.9">5. Sep</tspan></text></g>
</svg>
</body></html>
